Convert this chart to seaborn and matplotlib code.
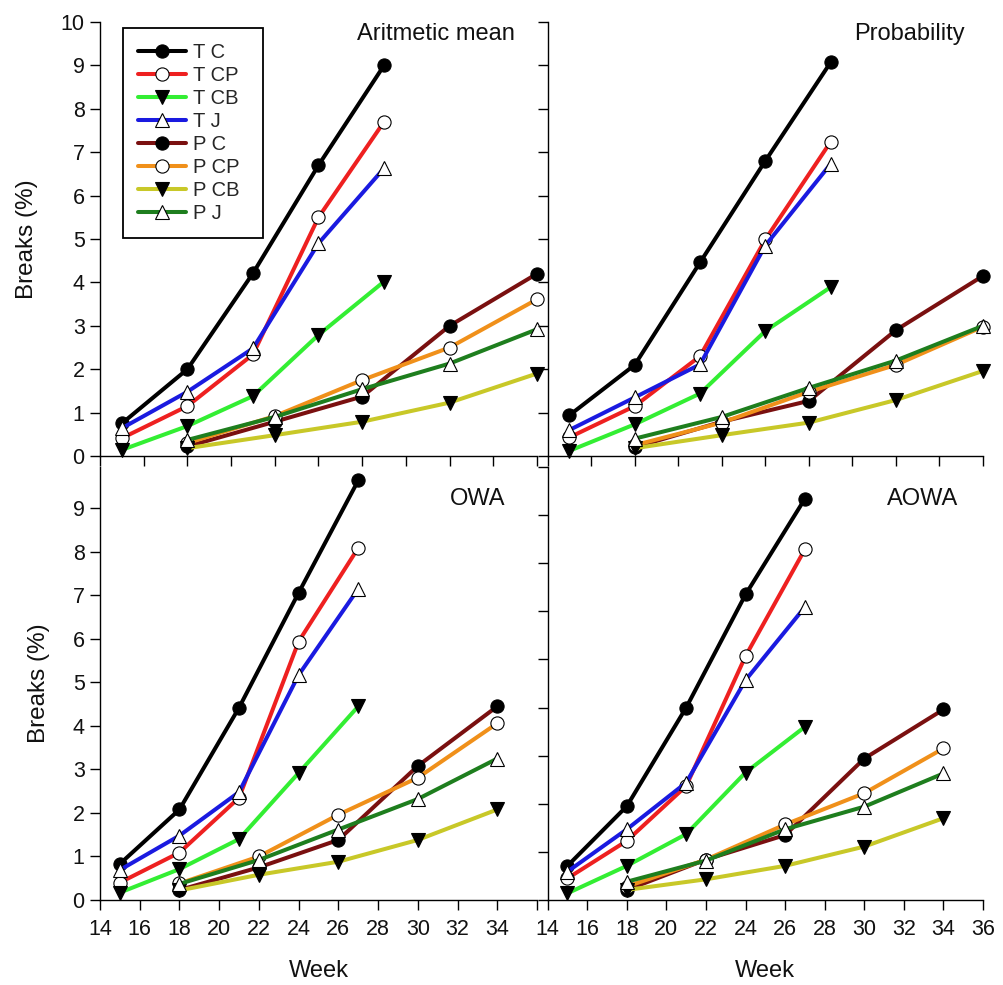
import matplotlib
matplotlib.use("Agg")
import matplotlib.pyplot as plt
import seaborn as sns
import numpy as np

sns.set_theme(style="ticks")
plt.rcParams['font.family'] = ['Liberation Sans', 'DejaVu Sans']

# ---- data ----
weeks_T = [15, 18, 21, 24, 27]
weeks_P = [18, 22, 26, 30, 34]
series_names = ["T C", "T CP", "T CB", "T J", "P C", "P CP", "P CB", "P J"]

panel_titles = ["Aritmetic mean", "Probability", "OWA", "AOWA"]

mean_vals = {
    "T C":  [0.75, 2.00, 4.21, 6.70, 9.00],
    "T CP": [0.41, 1.15, 2.34, 5.50, 7.70],
    "T CB": [0.14, 0.69, 1.38, 2.79, 4.02],
    "T J":  [0.64, 1.48, 2.48, 4.90, 6.63],
    "P C":  [0.22, 0.79, 1.37, 3.00, 4.20],
    "P CP": [0.30, 0.92, 1.75, 2.50, 3.61],
    "P CB": [0.18, 0.48, 0.79, 1.23, 1.90],
    "P J":  [0.37, 0.90, 1.54, 2.13, 2.92],
}
prob_vals = {
    "T C":  [0.94, 2.10, 4.46, 6.80, 9.07],
    "T CP": [0.43, 1.15, 2.30, 4.99, 7.24],
    "T CB": [0.12, 0.73, 1.44, 2.88, 3.89],
    "T J":  [0.60, 1.35, 2.11, 4.85, 6.73],
    "P C":  [0.20, 0.79, 1.27, 2.90, 4.15],
    "P CP": [0.25, 0.77, 1.48, 2.10, 2.98],
    "P CB": [0.18, 0.48, 0.77, 1.29, 1.96],
    "P J":  [0.40, 0.90, 1.57, 2.20, 3.00],
}
owa_vals = {
    "T C":  [0.83, 2.08, 4.42, 7.06, 9.64],
    "T CP": [0.40, 1.09, 2.35, 5.94, 8.09],
    "T CB": [0.17, 0.71, 1.40, 2.92, 4.45],
    "T J":  [0.69, 1.48, 2.48, 5.17, 7.15],
    "P C":  [0.23, 0.75, 1.38, 3.08, 4.45],
    "P CP": [0.38, 1.00, 1.96, 2.81, 4.06],
    "P CB": [0.22, 0.58, 0.88, 1.38, 2.08],
    "P J":  [0.37, 0.92, 1.62, 2.32, 3.25],
}
aowa_vals = {
    "T C":  [0.71, 1.95, 4.00, 6.35, 8.34],
    "T CP": [0.45, 1.23, 2.37, 5.07, 7.29],
    "T CB": [0.14, 0.71, 1.37, 2.65, 3.60],
    "T J":  [0.59, 1.47, 2.44, 4.57, 6.09],
    "P C":  [0.21, 0.84, 1.35, 2.94, 3.96],
    "P CP": [0.28, 0.84, 1.57, 2.22, 3.15],
    "P CB": [0.21, 0.43, 0.71, 1.11, 1.70],
    "P J":  [0.38, 0.82, 1.47, 1.94, 2.63],
}
panel_data = [mean_vals, prob_vals, owa_vals, aowa_vals]

# ---- styles ----
colors = {
    "T C": "#000000", "T CP": "#ee2020", "T CB": "#33ee33", "T J": "#1a1ae0",
    "P C": "#7a1010", "P CP": "#f0901a", "P CB": "#c8c828", "P J": "#1e7e1e",
}
markers = {
    "T C": ("o", "black"), "T CP": ("o", "white"), "T CB": ("v", "black"), "T J": ("^", "white"),
    "P C": ("o", "black"), "P CP": ("o", "white"), "P CB": ("v", "black"), "P J": ("^", "white"),
}

W, H = 1004, 985
fig = plt.figure(figsize=(W / 100, H / 100), dpi=100)

def rect(x0, y0, x1, y1):
    return [x0 / W, 1 - y1 / H, (x1 - x0) / W, (y1 - y0) / H]

rects = [rect(100, 22, 537, 456), rect(547.7, 22, 983, 456),
         rect(100, 467, 537, 900), rect(547.7, 467, 983, 900)]
ylims = [(0, 10), (0, 10), (0, 9.95), (0, 9)]
xlims = [(14, 34), (14, 34), (14, 36), (14, 36)]
title_pos = [(0.95, 0.972), (0.958, 0.972), (0.927, 0.926), (0.944, 0.926)]

for i, (r, data) in enumerate(zip(rects, panel_data)):
    ax = fig.add_axes(r)
    for name in series_names:
        xs = weeks_T if name.startswith("T") else weeks_P
        m, fc = markers[name]
        sns.lineplot(x=xs, y=data[name], ax=ax, color=colors[name], lw=2.9,
                     marker=m, markersize=9.5, markerfacecolor=fc,
                     markeredgecolor="black", markeredgewidth=0.8,
                     label=name, clip_on=False)
    if ax.get_legend() is not None:
        ax.get_legend().remove()
    ax.set_xlim(*xlims[i])
    ax.set_ylim(*ylims[i])
    ax.set_xticks(np.arange(xlims[i][0], xlims[i][1] + 0.1, 2))
    if i in (0, 1):
        ax.set_yticks(np.arange(0, 11, 1))
    else:
        ax.set_yticks(np.arange(0, 10, 1))
    for s in ["top", "right"]:
        ax.spines[s].set_visible(False)
    for s in ["left", "bottom"]:
        ax.spines[s].set_color("black")
        ax.spines[s].set_linewidth(1.0)
    ax.tick_params(axis="both", direction="out", length=7, width=1.0, color="black",
                   labelsize=15.5, labelcolor="#111111", pad=4)
    if i in (0, 1):
        ax.set_xticklabels([])
        ax.set_xlabel("")
    else:
        labs = [str(int(t)) for t in ax.get_xticks()]
        if i == 2:
            labs[-1] = ""
        ax.set_xticklabels(labs)
        ax.tick_params(axis="x", pad=7)
        ax.set_xlabel("Week", fontsize=17, labelpad=14, color="#111111")
    if i in (1, 3):
        ax.set_yticklabels([])
        ax.set_ylabel("")
    else:
        ax.set_ylabel("Breaks (%)", fontsize=17.5, labelpad=16, color="#111111")
    ax.text(title_pos[i][0], title_pos[i][1], panel_titles[i], transform=ax.transAxes,
            ha="right", va="center", fontsize=17, color="#111111")
    ax.grid(False)
    if i == 0:
        h, l = ax.get_legend_handles_labels()
        leg = ax.legend(h, l, loc="upper left", bbox_to_anchor=(0.052, 0.5, 0.321, 0.486),
                        mode="expand",
                        fontsize=14.5, frameon=True, fancybox=False, handlelength=2.4,
                        labelspacing=0.2, borderpad=0.75, handletextpad=0.35,
                        borderaxespad=0.0, markerscale=1.0)
        leg.get_frame().set_edgecolor("black")
        leg.get_frame().set_linewidth(1.3)
        leg.get_frame().set_alpha(1)

fig.savefig("out.png", dpi=100)
